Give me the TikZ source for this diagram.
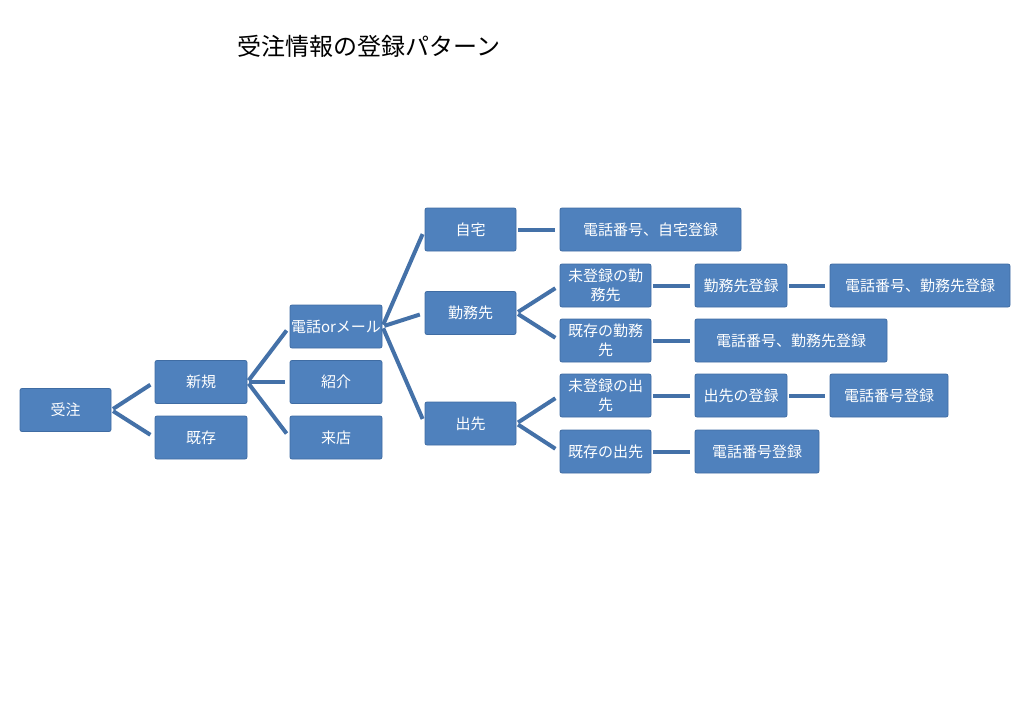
\documentclass[tikz,border=0pt]{standalone}
\usepackage{fontspec}
\setmainfont{Noto Sans CJK JP}
\usepackage{xcolor}
\usepackage{tikz}
\usetikzlibrary{positioning}
\definecolor{boxblue}{HTML}{4F81BD}
\definecolor{boxedge}{HTML}{3F6CA3}
\definecolor{linkblue}{HTML}{4471A8}

\begin{document}
\begin{tikzpicture}[x=1pt,y=-1pt,
		box/.style={draw=boxedge,fill=boxblue,rounded corners=2pt,line width=0.8pt,text=white,font=\fontsize{15}{19}\selectfont,minimum height=43pt,minimum width=#1,inner sep=0pt,align=center},
		box/.default=91pt,
		link/.style={linkblue,line width=4pt,shorten <=2pt,shorten >=5pt}]
		\useasboundingbox (0,0) rectangle (1024,722);
		\node (title) at (369,46) {\fontsize{24}{28}\selectfont 受注情報の登録パターン};
		\node[box] (juchu) at (65.5,410) {受注};
		\node[box=92pt] (shinki) at (201,382) {新規};
		\node[box=92pt] (kizon) at (201,437.5) {既存};
		\node[box=92pt] (denwa) at (336,326.5) {電話orメール};
		\node[box=92pt] (shokai) at (336,382) {紹介};
		\node[box=92pt] (raiten) at (336,437.5) {来店};
		\node[box] (jitaku) at (470.5,229.5) {自宅};
		\node[box] (kinmu) at (470.5,313) {勤務先};
		\node[box] (desaki) at (470.5,423.5) {出先};
		\node[box=181pt] (jitakuTel) at (650.5,229.5) {電話番号、自宅登録};
		\node[box] (kinmuNew) at (605.5,285.5) {未登録の勤\\務先};
		\node[box=92pt] (kinmuNewReg) at (741,285.5) {勤務先登録};
		\node[box=180pt] (kinmuNewTel) at (920,285.5) {電話番号、勤務先登録};
		\node[box] (kinmuOld) at (605.5,340.5) {既存の勤務\\先};
		\node[box=192pt] (kinmuOldTel) at (791,340.5) {電話番号、勤務先登録};
		\node[box] (desakiNew) at (605.5,395.5) {未登録の出\\先};
		\node[box=92pt] (desakiNewReg) at (741,395.5) {出先の登録};
		\node[box=118pt] (desakiNewTel) at (889,395.5) {電話番号登録};
		\node[box] (desakiOld) at (605.5,451.5) {既存の出先};
		\node[box=124pt] (desakiOldTel) at (757,451.5) {電話番号登録};
		\draw[link] (juchu.east) -- (shinki.west);
		\draw[link] (juchu.east) -- (kizon.west);
		\draw[link] (shinki.east) -- (denwa.west);
		\draw[link] (shinki.east) -- (shokai.west);
		\draw[link] (shinki.east) -- (raiten.west);
		\draw[link] (denwa.east) -- (jitaku.west);
		\draw[link] (denwa.east) -- (kinmu.west);
		\draw[link] (denwa.east) -- (desaki.west);
		\draw[link] (jitaku.east) -- (jitakuTel.west);
		\draw[link] (kinmu.east) -- (kinmuNew.west);
		\draw[link] (kinmu.east) -- (kinmuOld.west);
		\draw[link] (kinmuNew.east) -- (kinmuNewReg.west);
		\draw[link] (kinmuNewReg.east) -- (kinmuNewTel.west);
		\draw[link] (kinmuOld.east) -- (kinmuOldTel.west);
		\draw[link] (desaki.east) -- (desakiNew.west);
		\draw[link] (desaki.east) -- (desakiOld.west);
		\draw[link] (desakiNew.east) -- (desakiNewReg.west);
		\draw[link] (desakiNewReg.east) -- (desakiNewTel.west);
		\draw[link] (desakiOld.east) -- (desakiOldTel.west);
	\end{tikzpicture}
\end{document}
